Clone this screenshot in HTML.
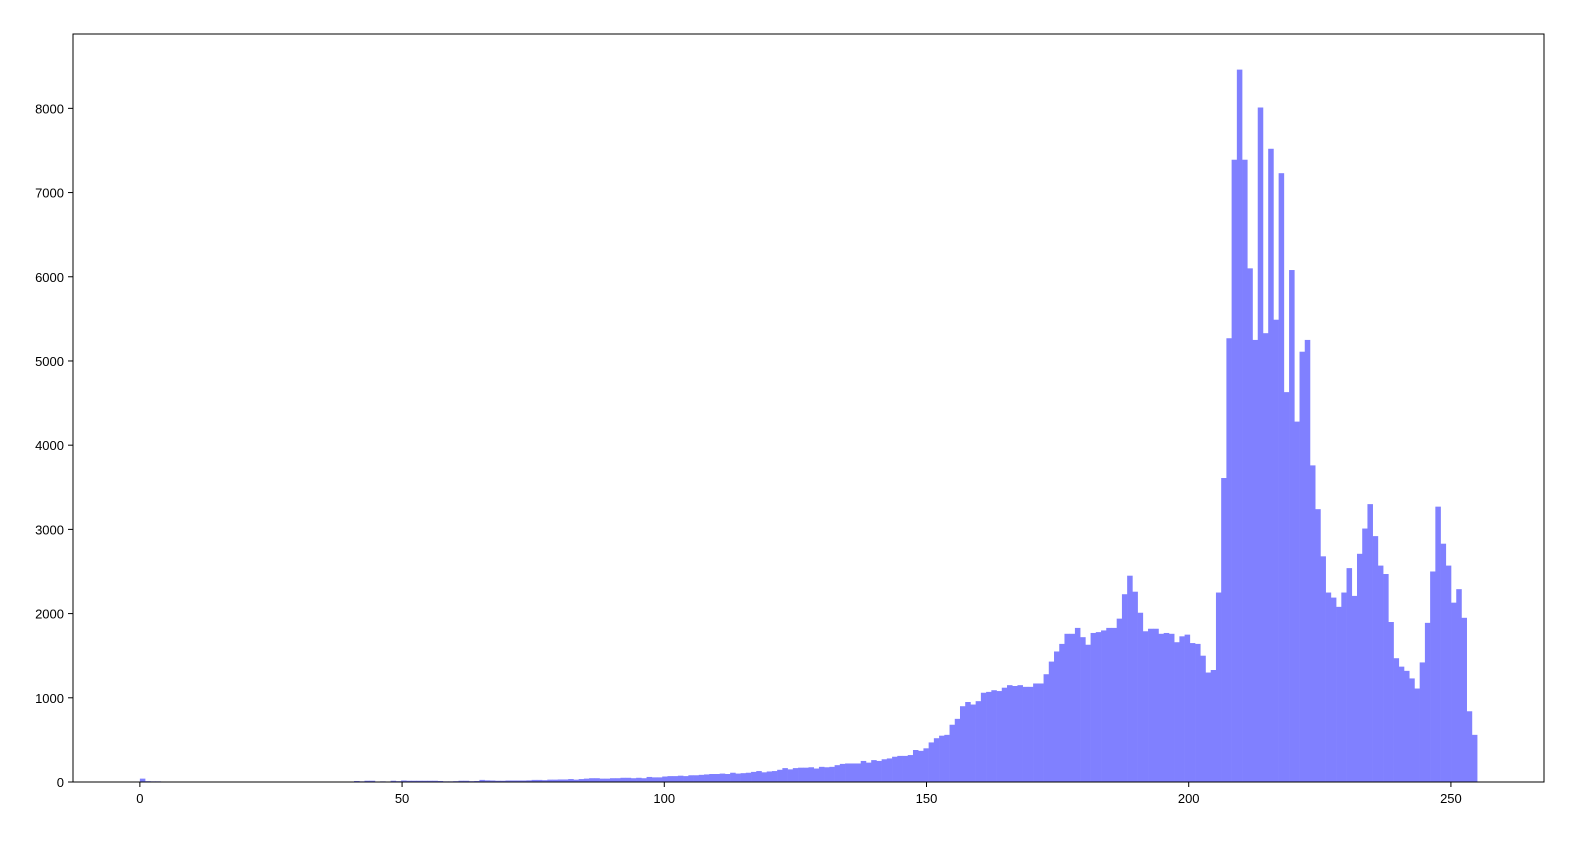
<!DOCTYPE html>
<html><head><meta charset="utf-8"><style>
body{margin:0;background:#fff}
svg text{font-family:"Liberation Sans","DejaVu Sans",sans-serif;font-size:13px;fill:#000}
</style></head><body>
<svg id="chart" width="1586" height="836" xmlns="http://www.w3.org/2000/svg">
<g id="bars"></g>
<g id="axes"></g>
</svg>
<script>
const counts = [
40,10,8,8,6,5,0,0,0,0,0,0,5,5,5,5,5,5,5,5,
5,5,5,5,5,5,5,5,5,5,5,5,5,5,5,5,5,5,5,5,
5,12,8,15,15,5,8,5,15,10,18,15,15,15,15,15,15,12,8,8,
10,15,15,10,12,25,20,18,15,15,18,18,18,18,20,25,25,22,28,28,
30,30,35,28,35,40,45,45,40,40,45,45,50,50,45,50,45,60,55,55,
65,70,70,75,70,80,80,85,90,95,95,100,95,110,100,105,110,120,130,115,
125,130,145,165,150,165,170,170,175,160,180,175,180,200,215,220,220,220,250,230,
260,250,270,280,300,310,310,320,380,370,400,470,520,550,560,680,750,900,950,920,
960,1060,1070,1090,1080,1120,1150,1140,1150,1130,1130,1170,1170,1280,1430,1550,1640,1760,1760,1830,
1720,1630,1770,1780,1800,1830,1830,1940,2230,2450,2260,2010,1790,1820,1820,1760,1770,1760,1660,1730,
1750,1650,1640,1500,1300,1330,2250,3610,5270,7390,8460,7390,6100,5250,8010,5330,7520,5490,7230,4630,
6080,4280,5110,5250,3760,3240,2680,2250,2190,2080,2250,2540,2210,2710,3010,3300,2920,2570,2470,1900,
1470,1370,1320,1230,1110,1420,1890,2500,3270,2830,2570,2130,2290,1950,840,560];
const xTicks = [0,50,100,150,200,250];
const yTicks = [0,1000,2000,3000,4000,5000,6000,7000,8000];

const L=73,R=1544,T=34,B=782;
const binW=255/256;
const xMin=-12.75,xMax=267.75;
const yMax=Math.max(...counts)*1.05;
const sx=v=>L+(v-xMin)/(xMax-xMin)*(R-L);
const sy=v=>B-v/yMax*(B-T);
const NS="http://www.w3.org/2000/svg";
const bars=document.getElementById('bars');
counts.forEach((c,i)=>{
  const r=document.createElementNS(NS,'rect');
  const x0=sx(i*binW),x1=sx((i+1)*binW);
  r.setAttribute('x',x0);r.setAttribute('width',x1-x0+0.3);
  r.setAttribute('y',sy(c));r.setAttribute('height',B-sy(c));
  r.setAttribute('fill','#8080ff');
  
  
  bars.appendChild(r);
});
const axes=document.getElementById('axes');
const frame=document.createElementNS(NS,'rect');
frame.setAttribute('x',L);frame.setAttribute('y',T);frame.setAttribute('width',R-L);frame.setAttribute('height',B-T);
frame.setAttribute('fill','none');frame.setAttribute('stroke','#000');frame.setAttribute('stroke-width','1');


axes.appendChild(frame);
xTicks.forEach(t=>{
  const x=sx(t);
  const l=document.createElementNS(NS,'line');
  l.setAttribute('x1',x);l.setAttribute('x2',x);l.setAttribute('y1',B);l.setAttribute('y2',B+5);l.setAttribute('stroke','#000');
  
  
  axes.appendChild(l);
  const tx=document.createElementNS(NS,'text');
  tx.setAttribute('x',x);tx.setAttribute('y',B+21);tx.setAttribute('text-anchor','middle');tx.textContent=t;
  
  
  axes.appendChild(tx);
});
yTicks.forEach(t=>{
  const y=sy(t);
  const l=document.createElementNS(NS,'line');
  l.setAttribute('x1',L-5);l.setAttribute('x2',L);l.setAttribute('y1',y);l.setAttribute('y2',y);l.setAttribute('stroke','#000');
  
  
  axes.appendChild(l);
  const tx=document.createElementNS(NS,'text');
  tx.setAttribute('x',L-9);tx.setAttribute('y',y+5);tx.setAttribute('text-anchor','end');tx.textContent=t;
  
  
  axes.appendChild(tx);
});
</script>
</body></html>
